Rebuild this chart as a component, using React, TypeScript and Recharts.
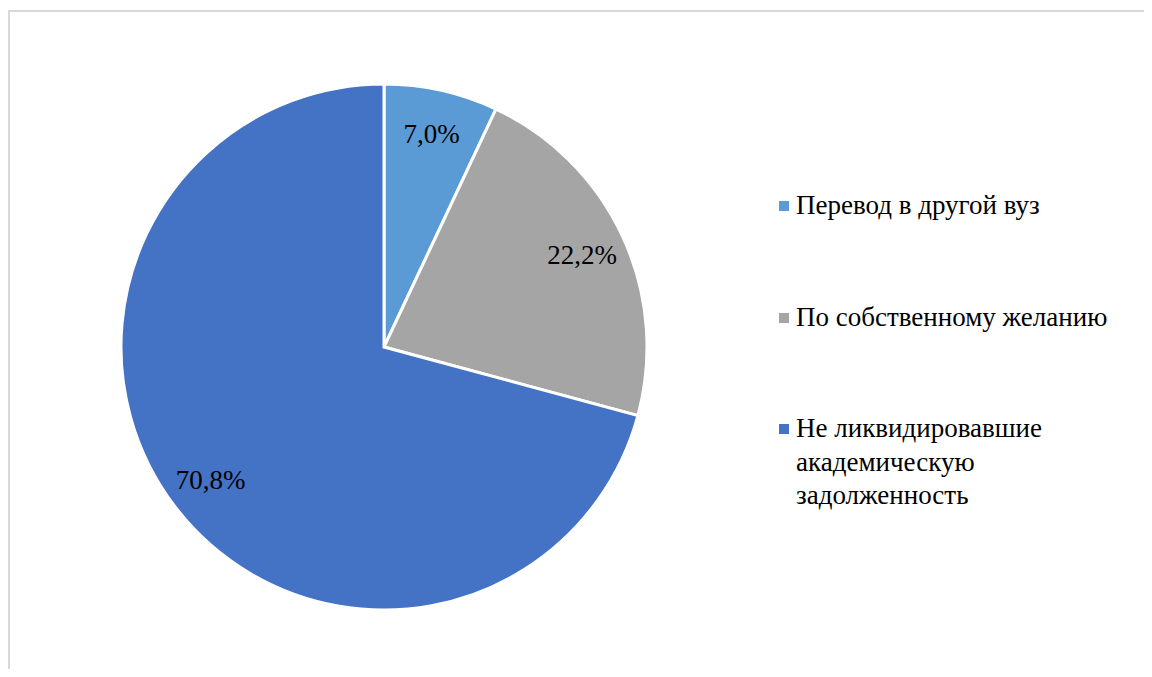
import React from "react";
import { PieChart, Pie, Cell, Legend } from "recharts";

const categories = [
  "Перевод в другой вуз",
  "По собственному желанию",
  "Не ликвидировавшие академическую задолженность",
];
const values = [7.0, 22.2, 70.8];
const colors = ["#5B9BD5", "#A5A5A5", "#4472C4"];

const data = categories.map((name, i) => ({ name, value: values[i] }));

const FONT = "'Liberation Serif', Tinos, 'Times New Roman', 'DejaVu Serif', serif";
const RAD = Math.PI / 180;

const renderLabel = (props: any) => {
  const { cx, cy, midAngle, outerRadius, value } = props;
  const r = outerRadius * 0.83;
  const x = cx + r * Math.cos(-midAngle * RAD);
  const y = cy + r * Math.sin(-midAngle * RAD);
  return (
    <text
      x={x}
      y={y}
      fill="#000"
      textAnchor="middle"
      dominantBaseline="central"
      style={{ fontFamily: FONT, fontSize: 27 }}
    >
      {value.toFixed(1).replace(".", ",") + "%"}
    </text>
  );
};

const renderLegend = () => {
  return (
    <div style={{ fontFamily: FONT, fontSize: 27, color: "#000", width: 360 }}>
      {categories.map((name, i) => (
        <div
          key={name}
          style={{
            display: "flex",
            alignItems: "flex-start",
            lineHeight: "33.5px",
            marginBottom: i < categories.length - 1 ? 78 : 0,
          }}
        >
          <span
            style={{
              display: "inline-block",
              width: 10,
              height: 10,
              background: colors[i],
              marginTop: 12,
              marginRight: 7,
              flexShrink: 0,
            }}
          />
          <span style={{ width: 345 }}>{name}</span>
        </div>
      ))}
    </div>
  );
};

export default function App() {
  return (
    <div style={{ position: "relative", width: 1144, height: 661, overflow: "hidden" }}>
      <div
        style={{
          position: "absolute",
          left: 0,
          top: 2,
          width: 1300,
          height: 900,
          border: "2px solid #d9d9d9",
          boxSizing: "border-box",
        }}
      />
      <div style={{ position: "absolute", left: 0, top: 0 }}>
        <PieChart width={1144} height={661} margin={{ top: 0, right: 0, bottom: 0, left: 0 }}>
          <Pie
            data={data}
            dataKey="value"
            nameKey="name"
            cx={376}
            cy={339}
            outerRadius={263}
            startAngle={90}
            endAngle={-270}
            stroke="#fff"
            strokeWidth={3}
            label={renderLabel}
            labelLine={false}
            isAnimationActive={false}
          >
            {data.map((d, i) => (
              <Cell key={d.name} fill={colors[i]} />
            ))}
          </Pie>
          <Legend
            layout="vertical"
            align="right"
            verticalAlign="middle"
            content={renderLegend}
            wrapperStyle={{ position: "absolute", left: 771, top: 181, width: 370 }}
          />
        </PieChart>
      </div>
    </div>
  );
}
